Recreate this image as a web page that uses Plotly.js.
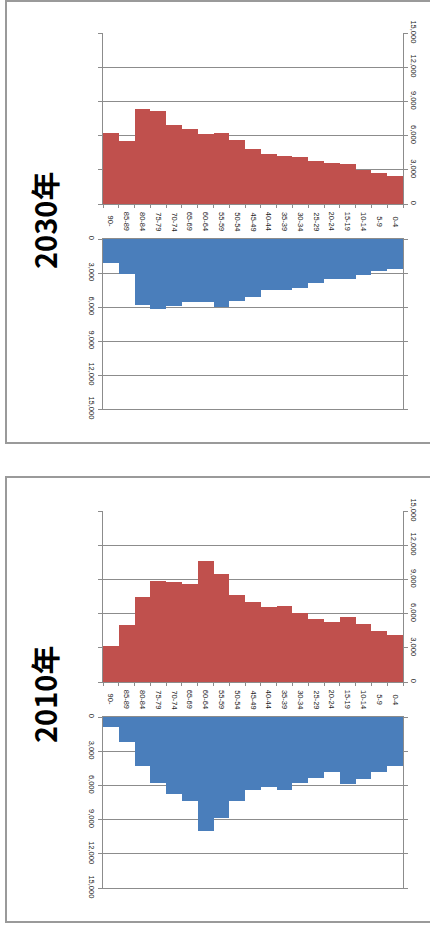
<!DOCTYPE html>
<html>
<head>
<meta charset="utf-8">
<script src="https://cdn.plot.ly/plotly-3.0.1.min.js"></script>
<style>
html,body{margin:0;padding:0;background:#fff;}
#chart{width:430px;height:926px;}
</style>
</head>
<body>
<div id="chart"></div>
<script>
// Age groups (left to right)
var categories = ["90-","85-89","80-84","75-79","70-74","65-69","60-64","55-59","50-54","45-49","40-44","35-39","30-34","25-29","20-24","15-19","10-14","5-9","0-4"];

// 2030 panel
var red2030  = [6230,5500,8300,8150,6930,6550,6140,6200,5590,4850,4390,4240,4150,3740,3570,3480,3010,2720,2460];
var blue2030 = [2120,3090,5820,6210,5910,5590,5590,6030,5440,5120,4470,4470,4320,3880,3500,3560,3180,2820,2680];

// 2010 panel
var red2010  = [3190,5030,7460,8860,8770,8630,10640,9500,7660,7020,6550,6640,6050,5500,5260,5670,5090,4470,4090];
var blue2010 = [880,2160,4270,5760,6730,7340,10000,8860,7340,6370,6110,6370,5760,5380,4800,5850,5440,4800,4270];

var valueTicks = [0,3000,6000,9000,12000,15000];
var titles = ["2030年","2010年"];

var RED = "#C0504D", BLUE = "#4A7EBB";
var GRID = "#8C8C8C", LINE = "#8C8C8C";
var tickFont = {family:"Liberation Sans, Arial, sans-serif", size:7.5, color:"#222"};

function bar(x, y, xa, ya, color){
  return {type:"bar", x:x, y:y, xaxis:xa, yaxis:ya, marker:{color:color, line:{width:0}},
          hoverinfo:"skip", showlegend:false};
}

var data = [
  bar(categories, red2030, "x", "y", RED),
  bar(categories, blue2030, "x2", "y2", BLUE),
  bar(categories, red2010, "x3", "y3", RED),
  bar(categories, blue2010, "x4", "y4", BLUE)
];

var xd = [103/430, 403/430];
function dom(top, bottom){ return [1 - bottom/926, 1 - top/926]; }

function catAxis(anchor, domY, withTicks){
  return {domain:xd, anchor:anchor, type:"category", categoryorder:"array", categoryarray:categories,
          showticklabels:false, showgrid:false, zeroline:false,
          ticks: withTicks ? "outside" : "", tickson:"boundaries", ticklen:3, tickcolor:LINE,
          showline:true, linecolor:LINE, linewidth:1, mirror:withTicks ? false : true, fixedrange:true};
}
function valAxis(anchor, domY, side, reversed){
  return {domain:domY, anchor:anchor, side:side,
          range: reversed ? [15000,0] : [0,15000],
          tickvals:valueTicks, tickformat:",", tickangle:90, tickfont:tickFont,
          showgrid:true, gridcolor:GRID, gridwidth:1, zeroline:false,
          showline:true, linecolor:LINE, linewidth:1, mirror:"ticks",
          ticks:"outside", ticklen:4, tickcolor:LINE, fixedrange:true};
}

var layout = {
  width:430, height:926,
  margin:{l:0,r:0,t:0,b:0},
  paper_bgcolor:"#fff", plot_bgcolor:"#fff",
  bargap:0, showlegend:false,
  xaxis:  catAxis("y",  dom(33,204), true),
  yaxis:  valAxis("x",  dom(33,204), "right", false),
  xaxis2: catAxis("y2", dom(239,409), false),
  yaxis2: valAxis("x2", dom(239,409), "left", true),
  xaxis3: catAxis("y3", dom(511,682), true),
  yaxis3: valAxis("x3", dom(511,682), "right", false),
  xaxis4: catAxis("y4", dom(717,888), false),
  yaxis4: valAxis("x4", dom(717,888), "left", true),
  shapes:[
    {type:"rect", xref:"paper", yref:"paper", x0:6/430, x1:1.05, y0:1-443/926, y1:1-1/926,
     line:{color:"#9a9a9a", width:2}, fillcolor:"rgba(0,0,0,0)"},
    {type:"rect", xref:"paper", yref:"paper", x0:6/430, x1:1.05, y0:1-922/926, y1:1-477/926,
     line:{color:"#9a9a9a", width:2}, fillcolor:"rgba(0,0,0,0)"}
  ],
  annotations:[]
};

// category labels between the two halves of each panel
var labelY = [1-221.5/926, 1-699.5/926];
var xrefs = ["x","x3"];
for (var p=0; p<2; p++){
  categories.forEach(function(c){
    layout.annotations.push({x:c, xref:xrefs[p], y:labelY[p], yref:"paper",
      text:c, showarrow:false, textangle:90, xanchor:"center", yanchor:"middle",
      font:{family:"Liberation Sans, Arial, sans-serif", size:7.5, color:"#222"}});
  });
}
// panel titles
var titleY = [1-221/926, 1-695/926];
for (var q=0; q<2; q++){
  layout.annotations.push({x:44/430, xref:"paper", y:titleY[q], yref:"paper",
    text:"<b>"+titles[q]+"</b>", showarrow:false, textangle:-90, xanchor:"center", yanchor:"middle",
    font:{family:"Noto Sans CJK JP, Noto Sans, sans-serif", size:29, color:"#000"}});
}

Plotly.newPlot("chart", data, layout, {staticPlot:true, displayModeBar:false});
</script>
</body>
</html>
